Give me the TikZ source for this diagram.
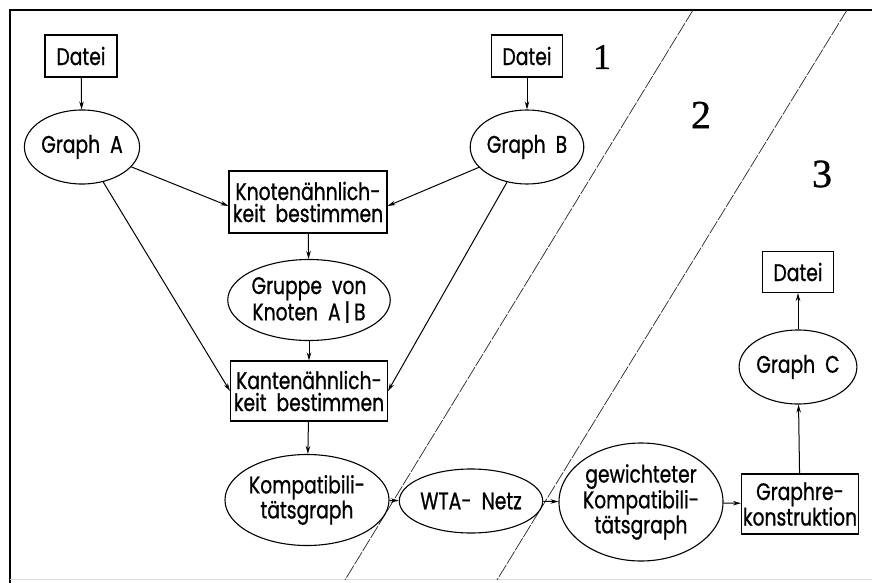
\documentclass[tikz,border=0pt]{standalone}
\usepackage{fontspec}
\setmainfont{Poppins}[FakeStretch=0.78, FakeBold=0.8]
\newfontfamily\numfont{Liberation Serif}[FakeBold=0.8]
\usetikzlibrary{arrows.meta,shapes.geometric}
\tikzset{
  every node/.style={font=\fontsize{24}{22}\selectfont, align=center, inner sep=1pt},
  box/.style={draw, line width=1.1pt, rectangle},
  ell/.style={draw, line width=1.1pt, ellipse, inner sep=0pt},
  arr/.style={line width=1pt, -{Stealth[length=8pt,width=4.5pt]}},
  zone/.style={line width=0.7pt, dash pattern=on 14pt off 1.5pt, black!85},
  numlab/.style={font=\numfont\fontsize{40}{40}\selectfont}
}
\begin{document}
\begin{tikzpicture}[x=1pt,y=-1pt]
\path[use as bounding box, fill=white] (0,0) rectangle (872,583);
% frame
\draw[line width=2pt] (10,583) -- (10,10) -- (872,10);
\draw[line width=0.6pt, black!15] (10,579) -- (872,579);
% zone separators
\coordinate (z1t) at (693,10);
\coordinate (z1b) at (345,580);
\coordinate (z2t) at (847,10);
\coordinate (z2b) at (497,580);
\draw[zone] (z1t) -- (z1b);
\draw[zone] (z2t) -- (z2b);
\node[numlab, font=\numfont\fontsize{36}{36}\selectfont] (n1) at (602,57) {1};
\node[numlab] (n2) at (701,115) {2};
\node[numlab] (n3) at (822,174) {3};
% nodes
\node[box, minimum width=72pt, minimum height=42pt] (da) at (81,56) {Datei};
\node[ell, minimum width=104pt, minimum height=74pt] (ga) at (82,147) {Graph\ \ A};
\node[box, minimum width=71pt, minimum height=42pt] (db) at (527,56) {Datei};
\node[ell, minimum width=104pt, minimum height=74pt] (gb) at (527,147) {Graph\ \ B};
\node[box, minimum width=158pt, minimum height=62pt] (kn) at (308,202) {Knotenähnlich-\\keit\ \ bestimmen};
\node[ell, minimum width=155pt, minimum height=81pt] (gr) at (309,300) {Gruppe\ \ von\\Knoten\ \ A\,|\,B};
\node[box, minimum width=157pt, minimum height=60pt] (kt) at (309,391) {Kantenähnlich-\\keit\ \ bestimmen};
\node[ell, minimum width=137pt, minimum height=91pt] (kg) at (307,500) {Kompatibili-\\tätsgraph};
\node[ell, minimum width=121pt, minimum height=64pt] (wta) at (471,501) {WTA-\ \ Netz};
\node[ell, minimum width=149pt, minimum height=118pt] (gw) at (641,502) {gewichteter\\Kompatibili-\\tätsgraph};
\node[box, minimum width=117pt, minimum height=60pt] (rk) at (800,504) {Graphre-\\konstruktion};
\node[ell, minimum width=105pt, minimum height=74pt] (gc) at (798,367) {Graph\ \ C};
\node[box, minimum width=71pt, minimum height=41pt] (dc) at (798,272) {Datei};
% connectors
\draw[arr] (da) -- (ga);
\draw[arr] (db) -- (gb);
\draw[arr] (ga) -- ([yshift=-4pt]kn.west);
\draw[arr] (gb) -- ([yshift=-4pt]kn.east);
\draw[arr] (ga) -- (kt.west);
\draw[arr] (gb) -- (kt.east);
\draw[arr] (kn) -- (gr);
\draw[arr] (gr) -- (kt);
\draw[arr] (kt) -- (kg);
\draw[arr] (kg) -- (wta);
\draw[arr] (wta) -- (gw);
\draw[arr] (gw) -- (rk);
\draw[arr] (rk) -- (gc);
\draw[arr] (gc) -- (dc);
\end{tikzpicture}
\end{document}
